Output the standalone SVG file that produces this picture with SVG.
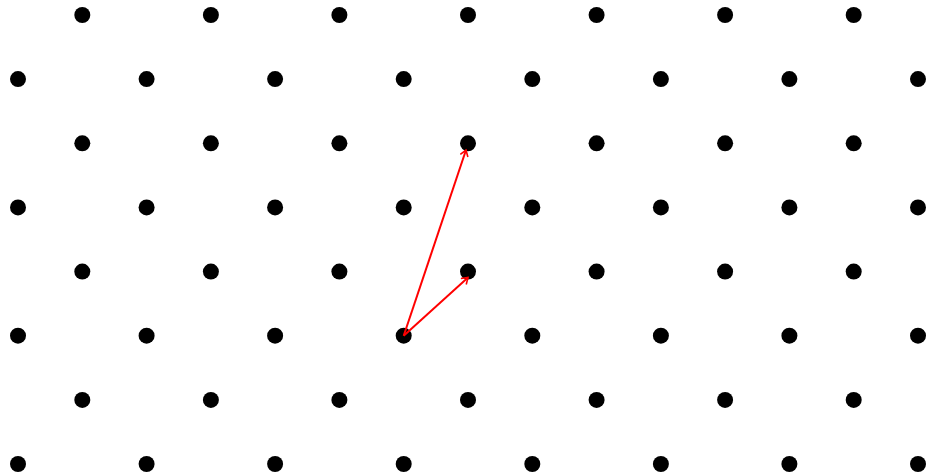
<svg xmlns="http://www.w3.org/2000/svg" width="928" height="474" viewBox="0 0 928 474">
<defs>
<style>
.d{fill:#000}
.a{stroke:#ff0000;stroke-width:2;fill:none}
</style>
<marker id="ah" markerWidth="10" markerHeight="10" refX="7" refY="5" orient="auto" markerUnits="userSpaceOnUse">
<path d="M1,1 L7,5 L1,9" fill="none" stroke="#ff0000" stroke-width="1.6"/>
</marker>
</defs>
<rect width="928" height="474" fill="#fff"/>
<g id="lattice">
<g id="row0"><circle class="d" cx="82.3" cy="15" r="8"/><circle class="d" cx="210.9" cy="15" r="8"/><circle class="d" cx="339.4" cy="15" r="8"/><circle class="d" cx="468" cy="15" r="8"/><circle class="d" cx="596.6" cy="15" r="8"/><circle class="d" cx="725.1" cy="15" r="8"/><circle class="d" cx="853.7" cy="15" r="8"/></g>
<g id="row1"><circle class="d" cx="18" cy="79.1" r="8"/><circle class="d" cx="146.6" cy="79.1" r="8"/><circle class="d" cx="275.1" cy="79.1" r="8"/><circle class="d" cx="403.7" cy="79.1" r="8"/><circle class="d" cx="532.3" cy="79.1" r="8"/><circle class="d" cx="660.9" cy="79.1" r="8"/><circle class="d" cx="789.4" cy="79.1" r="8"/><circle class="d" cx="918" cy="79.1" r="8"/></g>
<g id="row2"><circle class="d" cx="82.3" cy="143.3" r="8"/><circle class="d" cx="210.9" cy="143.3" r="8"/><circle class="d" cx="339.4" cy="143.3" r="8"/><circle class="d" cx="468" cy="143.3" r="8"/><circle class="d" cx="596.6" cy="143.3" r="8"/><circle class="d" cx="725.1" cy="143.3" r="8"/><circle class="d" cx="853.7" cy="143.3" r="8"/></g>
<g id="row3"><circle class="d" cx="18" cy="207.4" r="8"/><circle class="d" cx="146.6" cy="207.4" r="8"/><circle class="d" cx="275.1" cy="207.4" r="8"/><circle class="d" cx="403.7" cy="207.4" r="8"/><circle class="d" cx="532.3" cy="207.4" r="8"/><circle class="d" cx="660.9" cy="207.4" r="8"/><circle class="d" cx="789.4" cy="207.4" r="8"/><circle class="d" cx="918" cy="207.4" r="8"/></g>
<g id="row4"><circle class="d" cx="82.3" cy="271.6" r="8"/><circle class="d" cx="210.9" cy="271.6" r="8"/><circle class="d" cx="339.4" cy="271.6" r="8"/><circle class="d" cx="468" cy="271.6" r="8"/><circle class="d" cx="596.6" cy="271.6" r="8"/><circle class="d" cx="725.1" cy="271.6" r="8"/><circle class="d" cx="853.7" cy="271.6" r="8"/></g>
<g id="row5"><circle class="d" cx="18" cy="335.7" r="8"/><circle class="d" cx="146.6" cy="335.7" r="8"/><circle class="d" cx="275.1" cy="335.7" r="8"/><circle class="d" cx="403.7" cy="335.7" r="8"/><circle class="d" cx="532.3" cy="335.7" r="8"/><circle class="d" cx="660.9" cy="335.7" r="8"/><circle class="d" cx="789.4" cy="335.7" r="8"/><circle class="d" cx="918" cy="335.7" r="8"/></g>
<g id="row6"><circle class="d" cx="82.3" cy="399.9" r="8"/><circle class="d" cx="210.9" cy="399.9" r="8"/><circle class="d" cx="339.4" cy="399.9" r="8"/><circle class="d" cx="468" cy="399.9" r="8"/><circle class="d" cx="596.6" cy="399.9" r="8"/><circle class="d" cx="725.1" cy="399.9" r="8"/><circle class="d" cx="853.7" cy="399.9" r="8"/></g>
<g id="row7"><circle class="d" cx="18" cy="464" r="8"/><circle class="d" cx="146.6" cy="464" r="8"/><circle class="d" cx="275.1" cy="464" r="8"/><circle class="d" cx="403.7" cy="464" r="8"/><circle class="d" cx="532.3" cy="464" r="8"/><circle class="d" cx="660.9" cy="464" r="8"/><circle class="d" cx="789.4" cy="464" r="8"/><circle class="d" cx="918" cy="464" r="8"/></g>
</g>
<g id="connectors">
<line class="a" x1="403.7" y1="335.7" x2="466" y2="150" marker-end="url(#ah)"/>
<line class="a" x1="403.7" y1="335.7" x2="468" y2="277.5" marker-end="url(#ah)"/>
</g>
</svg>
